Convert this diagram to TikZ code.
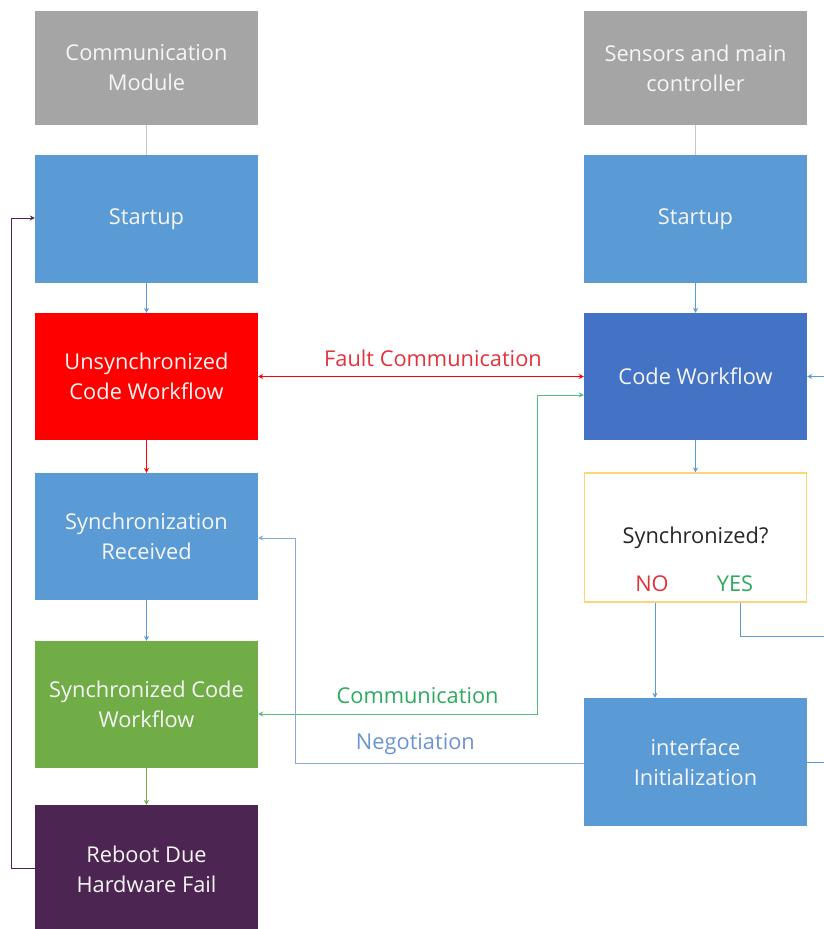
\documentclass[tikz,border=0pt]{standalone}
\usepackage{fontspec}
\setmainfont{Open Sans}
\usetikzlibrary{arrows.meta}
\definecolor{modgray}{HTML}{A5A5A5}
\definecolor{stepblue}{HTML}{5B9BD5}
\definecolor{codeblue}{HTML}{4472C4}
\definecolor{faultred}{HTML}{FF0000}
\definecolor{syncgreen}{HTML}{70AD47}
\definecolor{rebootpurple}{HTML}{4D2552}
\definecolor{askyellow}{HTML}{FFD37A}
\definecolor{labred}{HTML}{E2333D}
\definecolor{labgreen}{HTML}{2EAA5E}
\definecolor{labblue}{HTML}{6B93D3}

\begin{document}
\begin{tikzpicture}[x=1pt,y=-1pt]

\tikzset{box/.style = {rectangle, minimum width=223pt, minimum height=127pt, inner sep=0pt, align=center, text=white!93!gray, font=\fontsize{21.8}{30}\selectfont}}
\tikzset{edge/.style = {-{Stealth[length=5pt,width=5pt]}, line width=0.9pt}}
\tikzset{lab/.style = {font=\fontsize{21.8}{24}\selectfont}}
%\draw[help lines] (0,0) grid[step=50] (824,929);
\useasboundingbox (0,0) rectangle (824,929);
\clip (0,0) rectangle (824,929);

% left column
\node[box, fill=modgray, minimum height=114pt] (comm) at (146.5,68) {Communication\\Module};
\node[box, fill=stepblue, minimum height=128pt] (startL) at (146.5,219) {Startup};
\node[box, fill=faultred] (unsync) at (146.5,376.5) {Unsynchronized\\Code Workflow};
\node[box, fill=stepblue] (syncrec) at (146.5,536.5) {Synchronization\\Received};
\node[box, fill=syncgreen] (synccode) at (146.5,704.5) {Synchronized Code\\Workflow};
\node[box, fill=rebootpurple, minimum height=128pt] (reboot) at (146.5,869) {Reboot Due\\Hardware Fail};

% right column
\node[box, fill=modgray, minimum height=114pt] (sensors) at (695.5,68) {Sensors and main\\controller};
\node[box, fill=stepblue, minimum height=128pt] (startR) at (695.5,219) {Startup};
\node[box, fill=codeblue] (codewf) at (695.5,376.5) {Code Workflow};
\node[box, fill=white, draw=askyellow, line width=1.2pt, minimum width=222pt, minimum height=129pt, text=black] (syncq) at (695.5,537.5) {};
\node[lab, text=black!85] (asktext) at (695.5,538) {Synchronized?};
\node[lab, text=labred] (no) at (652,584) {NO};
\node[lab, text=labgreen] (yes) at (735,584) {YES};
\node[box, fill=stepblue, minimum height=128pt] (iface) at (695.5,762) {interface\\Initialization};

% vertical flow
\draw[line width=0.9pt, gray!45] (comm) -- (startL);
\draw[edge, stepblue] (startL) -- (unsync);
\draw[edge, faultred] (unsync) -- (syncrec);
\draw[edge, stepblue] (syncrec) -- (synccode);
\draw[edge, syncgreen] (synccode) -- (reboot);
\draw[line width=0.9pt, gray!45] (sensors) -- (startR);
\draw[edge, stepblue] (startR) -- (codewf);
\draw[edge, stepblue] (codewf) -- (syncq);
\coordinate (nodrop) at (655,602);
\draw[edge, stepblue] (syncq.south -| nodrop) -- (iface.north -| nodrop);

% reboot loop
\coordinate (loopbot) at (11,868);
\coordinate (looptop) at (11,218);
\draw[edge, rebootpurple] (reboot.west |- loopbot) -- (loopbot) -- (looptop) -- (startL.west |- looptop);

% links between the two modules
\draw[{Stealth[length=5pt,width=5pt]}-{Stealth[length=5pt,width=5pt]}, line width=0.9pt, faultred] (unsync) -- node[lab, above=6pt, xshift=12pt, text=labred] (faultlab) {Fault Communication} (codewf);
\coordinate (commtop) at (537,395);
\coordinate (commbot) at (537,714);
\draw[{Stealth[length=5pt,width=5pt]}-{Stealth[length=5pt,width=5pt]}, line width=0.9pt, labgreen!80] (synccode.east |- commbot) -- node[lab, above=7pt, xshift=20pt, text=labgreen] (commlab) {Communication} (commbot) -- (commtop) -- (codewf.west |- commtop);
\coordinate (negleft) at (295,763);
\coordinate (negtop) at (295,538);
\draw[edge, labblue!80] (iface.west |- negleft) -- node[lab, above=4pt, xshift=-24pt, text=labblue] (neglab) {Negotiation} (negleft) -- (negtop) -- (syncrec.east |- negtop);

% loop leaving the picture on the right
\coordinate (rightin) at (824,376.5);
\coordinate (yesturn) at (740,636);
\coordinate (yesout) at (824,636);
\coordinate (ifaceout) at (824,762);
\draw[edge, stepblue] (rightin) -- (codewf);
\draw[line width=0.9pt, stepblue] (syncq.south -| yesturn) -- (yesturn) -- (yesout);
\draw[line width=0.9pt, stepblue] (iface) -- (ifaceout);
\end{tikzpicture}
\end{document}
